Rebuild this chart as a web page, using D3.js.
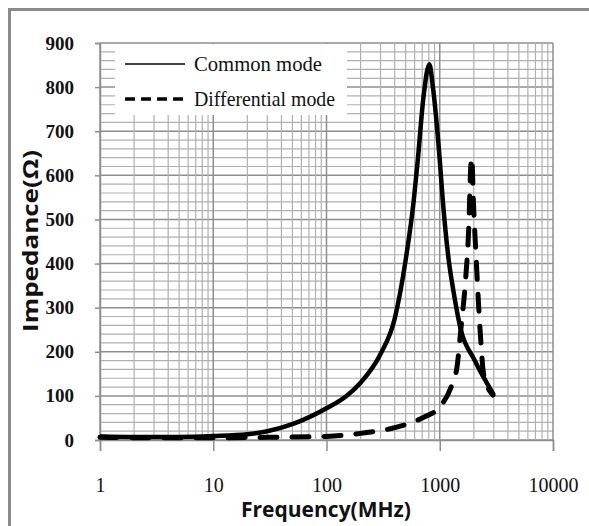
<!DOCTYPE html>
<html>
<head>
<meta charset="utf-8">
<script src="https://cdn.jsdelivr.net/npm/d3@7"></script>
<style>
  body { margin: 0; background: #fff; }
  svg { display: block; }
</style>
</head>
<body>
<div id="chart"></div>
<script>
// values (frequency in MHz, impedance in ohm)
var freqCommon = [1, 2, 5, 10, 20, 30, 50, 100, 150, 200, 300, 400, 500, 590, 640, 720, 810, 870, 1000, 1063, 1200, 1330, 1535, 2000, 3000];
var zCommon    = [8, 7, 7, 9, 13, 20, 36, 72, 100, 130, 195, 275, 408, 544, 635, 780, 852, 800, 635, 544, 408, 333, 250, 184, 102];

var freqDiff = [1, 3, 10, 30, 100, 200, 400, 700, 1000, 1300, 1420, 1535, 1690, 1800, 1880, 1920, 1980, 2100, 2270, 2450, 2950];
var zDiff    = [6, 5, 5, 6, 8, 15, 28, 50, 75, 130, 165, 250, 363, 476, 620, 640, 544, 408, 250, 147, 102];

var xTickLabels = [1, 10, 100, 1000, 10000];
var yTickLabels = [0, 100, 200, 300, 400, 500, 600, 700, 800, 900];
var seriesNames = ["Common mode", "Differential mode"];

var width = 589, height = 526;

var svg = d3.select("#chart").append("svg")
    .attr("width", width)
    .attr("height", height);

// grey frame on the left and top
svg.append("path")
    .attr("d", "M9.5," + height + " V9.5 H" + width)
    .attr("fill", "none")
    .attr("stroke", "#8a8a8a")
    .attr("stroke-width", 3);

var x = d3.scaleLog().domain([1, 10000]).range([100, 553]);
var y = d3.scaleLinear().domain([0, 900]).range([440, 43]);

// grid
var grid = svg.append("g");
grid.selectAll("line.hminor")
    .data(y.ticks(45))
    .enter().append("line")
    .attr("x1", x.range()[0]).attr("x2", x.range()[1])
    .attr("y1", function (d) { return y(d); })
    .attr("y2", function (d) { return y(d); })
    .attr("stroke", function (d) { return d % 100 === 0 ? "#8e8e8e" : "#b0b0b0"; })
    .attr("stroke-width", function (d) { return d % 100 === 0 ? 1.5 : 1.2; });

grid.selectAll("line.vminor")
    .data(x.ticks())
    .enter().append("line")
    .attr("x1", function (d) { return x(d); })
    .attr("x2", function (d) { return x(d); })
    .attr("y1", y.range()[0]).attr("y2", y.range()[1])
    .attr("stroke", function (d) { return xTickLabels.indexOf(d) >= 0 ? "#8e8e8e" : "#b0b0b0"; })
    .attr("stroke-width", function (d) { return xTickLabels.indexOf(d) >= 0 ? 1.5 : 1.2; });

// axes
var yAxis = d3.axisLeft(y)
    .tickValues(yTickLabels)
    .tickSize(5)
    .tickPadding(21);
var gy = svg.append("g")
    .attr("transform", "translate(" + x.range()[0] + ",0)")
    .call(yAxis);
gy.select(".domain").attr("stroke", "#8e8e8e").attr("stroke-width", 1.5);
gy.selectAll(".tick line").attr("stroke", "#8e8e8e").attr("stroke-width", 1.5);
gy.selectAll(".tick text")
    .attr("font-family", "'Liberation Serif', serif")
    .attr("font-weight", "bold")
    .attr("font-size", 19)
    .attr("fill", "#111");

var xAxis = d3.axisBottom(x)
    .tickValues(xTickLabels)
    .tickFormat(d3.format("d"))
    .tickSize(11)
    .tickPadding(27);
var gx = svg.append("g")
    .attr("transform", "translate(0," + y.range()[0] + ")")
    .call(xAxis);
gx.select(".domain").attr("stroke", "#8e8e8e").attr("stroke-width", 1.5);
gx.selectAll(".tick line").attr("stroke", "#8e8e8e").attr("stroke-width", 1.5);
gx.selectAll(".tick text")
    .attr("font-family", "'Liberation Serif', serif")
    .attr("font-size", 20)
    .attr("fill", "#111");

// axis titles
svg.append("text")
    .attr("x", 326).attr("y", 517)
    .attr("text-anchor", "middle")
    .attr("font-family", "'Open Sans', sans-serif")
    .attr("font-weight", "bold")
    .attr("font-size", 21)
    .attr("textLength", 170)
    .attr("lengthAdjust", "spacingAndGlyphs")
    .attr("fill", "#111")
    .text("Frequency(MHz)");

svg.append("text")
    .attr("transform", "translate(38,241) rotate(-90)")
    .attr("text-anchor", "middle")
    .attr("font-family", "'Open Sans', sans-serif")
    .attr("font-weight", "bold")
    .attr("font-size", 22)
    .attr("textLength", 182)
    .attr("lengthAdjust", "spacingAndGlyphs")
    .attr("fill", "#111")
    .text("Impedance(\u03A9)");

// curves
var line = d3.line()
    .x(function (d) { return x(d[0]); })
    .y(function (d) { return y(d[1]); })
    .curve(d3.curveMonotoneX);

svg.append("path")
    .datum(d3.zip(freqCommon, zCommon))
    .attr("d", line)
    .attr("fill", "none")
    .attr("stroke", "#000")
    .attr("stroke-width", 4.5)
    .attr("stroke-linejoin", "round");

svg.append("path")
    .datum(d3.zip(freqDiff, zDiff))
    .attr("d", line)
    .attr("fill", "none")
    .attr("stroke", "#000")
    .attr("stroke-width", 5)
    .attr("stroke-dasharray", "17,15")
    .attr("stroke-linecap", "round");

// legend
var legend = svg.append("g");
legend.append("rect")
    .attr("x", 115).attr("y", 44)
    .attr("width", 232).attr("height", 71)
    .attr("fill", "#fff");

var legendY = [64, 99];
legend.selectAll("line")
    .data(seriesNames)
    .enter().append("line")
    .attr("x1", 125).attr("x2", 185)
    .attr("y1", function (d, i) { return legendY[i]; })
    .attr("y2", function (d, i) { return legendY[i]; })
    .attr("stroke", "#000")
    .attr("stroke-width", function (d, i) { return i === 0 ? 1.5 : 3.5; })
    .attr("stroke-dasharray", function (d, i) { return i === 0 ? null : "10,6"; });

legend.selectAll("text")
    .data(seriesNames)
    .enter().append("text")
    .attr("x", 194)
    .attr("y", function (d, i) { return legendY[i] + 7; })
    .attr("font-family", "'Liberation Serif', serif")
    .attr("font-size", 21)
    .attr("textLength", function (d, i) { return i === 0 ? 128 : 141; })
    .attr("lengthAdjust", "spacingAndGlyphs")
    .attr("fill", "#111")
    .text(function (d) { return d; });
</script>
</body>
</html>
